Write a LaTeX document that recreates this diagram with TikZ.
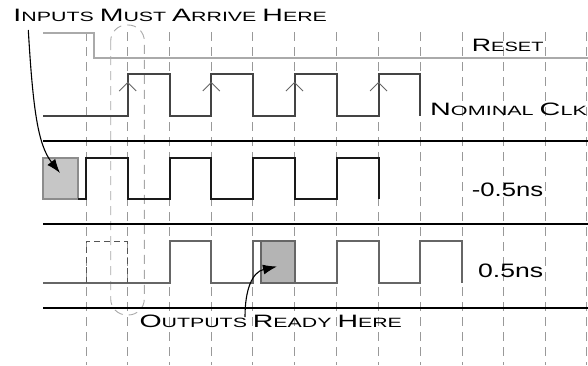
\documentclass[tikz,border=0pt]{standalone}
\usepackage{fontspec}
\usepackage{graphicx}
\setmainfont{Liberation Sans}
\usetikzlibrary{arrows.meta}
\definecolor{resetgray}{HTML}{AAAAAA}
\definecolor{clkgray}{HTML}{444444}
\definecolor{wavedark}{HTML}{1A1A1A}
\definecolor{wavemid}{HTML}{666666}
\definecolor{gridgray}{HTML}{999999}
\definecolor{boxfillA}{HTML}{C6C6C6}
\definecolor{boxlineA}{HTML}{8C8C8C}
\definecolor{boxfillB}{HTML}{B4B4B4}
\definecolor{ghostgray}{HTML}{555555}
\definecolor{roundgray}{HTML}{A8A8A8}
\newcommand\BC[1]{{\fontsize{18}{18}\selectfont #1}}
\newcommand\SCp[1]{{\fontsize{13.5}{13.5}\selectfont #1}}
\newcommand\WT[2]{\resizebox{#1}{\height}{#2}}
\begin{document}
\begin{tikzpicture}[x=1bp,y=-1bp,
  gridline/.style={draw=gridgray,line width=0.9bp,dash pattern=on 9bp off 6bp},
  sep/.style={draw=black,line width=2bp},
  resetwave/.style={draw=resetgray,line width=2bp},
  clkwave/.style={draw=clkgray,line width=2bp},
  minuswave/.style={draw=wavedark,line width=2bp},
  pluswave/.style={draw=wavemid,line width=2bp},
  chev/.style={draw=wavemid,line width=0.9bp},
  lbl/.style={inner sep=0pt,anchor=base west,text=black},
  pointer/.style={draw=black,line width=1.1bp,-{Latex[length=14bp,width=10bp]}},
  ghost/.style={draw=ghostgray,line width=0.9bp,dash pattern=on 6bp off 4bp},
  roundbox/.style={draw=roundgray,line width=0.9bp,dash pattern=on 9bp off 6bp,rounded corners=16bp}
]
\useasboundingbox (0,0) rectangle (588,365);
% grid
\foreach \gx in {86,127.7,169.7,211.3,252.7,294.5,336.6,378.6,420.3,462,503.3,545.2,586.3}
  \draw[gridline] (\gx,32) -- (\gx,365);
% rounded dashed window
\draw[roundbox] (110.7,25) rectangle (144.3,315);
% reset
\draw[resetwave] (43,32.7) -- (94,32.7) -- (94,57.7) -- (588,57.7);
% nominal clock
\draw[clkwave] (43,116) -- (127.7,116) -- (127.7,74) -- (169.7,74) -- (169.7,116) -- (211.3,116) -- (211.3,74) -- (252.7,74) -- (252.7,116) -- (294.5,116) -- (294.5,74) -- (336.6,74) -- (336.6,116) -- (378.6,116) -- (378.6,74) -- (420.3,74) -- (420.3,116);
\foreach \cx in {127.7,211.3,294.5,378.6}
  \draw[chev] (\cx-8.5,91) -- (\cx,82.5) -- (\cx+8.5,91);
% separators
\draw[sep] (43,140.7) -- (588,140.7);
\draw[sep] (43,224) -- (588,224);
\draw[sep] (43,308.3) -- (588,308.3);
% -0.5ns
\node[draw=boxlineA,fill=boxfillA,line width=2bp,minimum width=35bp,minimum height=41.3bp,inner sep=0pt] (inbox) at (60.8,178.35) {};
\draw[minuswave] (78.3,199) -- (86,199) -- (86,157.7) -- (127.7,157.7) -- (127.7,199) -- (169.7,199) -- (169.7,157.7) -- (211.3,157.7) -- (211.3,199) -- (252.7,199) -- (252.7,157.7) -- (294.5,157.7) -- (294.5,199) -- (336.6,199) -- (336.6,157.7) -- (378.6,157.7) -- (378.6,199);
% 0.5ns
\draw[pluswave] (43,282.7) -- (169.7,282.7) -- (169.7,241) -- (211.3,241) -- (211.3,282.7) -- (252.7,282.7) -- (252.7,241) -- (294.5,241) -- (294.5,282.7) -- (336.6,282.7) -- (336.6,241) -- (378.6,241) -- (378.6,282.7) -- (420.3,282.7) -- (420.3,241) -- (462,241) -- (462,282.7);
\node[draw=wavemid,fill=boxfillB,line width=2bp,minimum width=33.8bp,minimum height=41.7bp,inner sep=0pt] (outbox) at (277.6,261.85) {};
\draw[ghost] (86,282.7) -- (86,241) -- (127.7,241) -- (127.7,282.7);
% labels
\node[lbl] (inlbl) at (13.3,21.7) {\WT{313.4bp}{\SCp{\BC{I}NPUTS \BC{M}UST \BC{A}RRIVE \BC{H}ERE}}};
\node[lbl] (rstlbl) at (471.7,51.7) {\WT{71.6bp}{\SCp{\BC{R}ESET}}};
\node[lbl] (clklbl) at (430,115) {\WT{156.7bp}{\SCp{\BC{N}OMINAL \BC{C}LK}}};
\node[lbl] (mlbl) at (471.7,196) {\WT{71.3bp}{\fontsize{19.5}{20}\selectfont -0.5ns}};
\node[lbl] (plbl) at (478,277.3) {\WT{65bp}{\fontsize{19.5}{20}\selectfont 0.5ns}};
\node[lbl] (outlbl) at (139.3,327.8) {\WT{262.4bp}{\SCp{\BC{O}UTPUTS \BC{R}EADY \BC{H}ERE}}};
% pointers
\coordinate (instart) at (28.3,30);
\coordinate (inend) at (60,173);
\coordinate (outstart) at (245,317);
\coordinate (outend) at (277,266.5);
\draw[pointer] (instart) .. controls (33,110) and (38,145) .. (inend);
\draw[pointer] (outstart) .. controls (245,290) and (252,272) .. (outend);
\end{tikzpicture}
\end{document}
